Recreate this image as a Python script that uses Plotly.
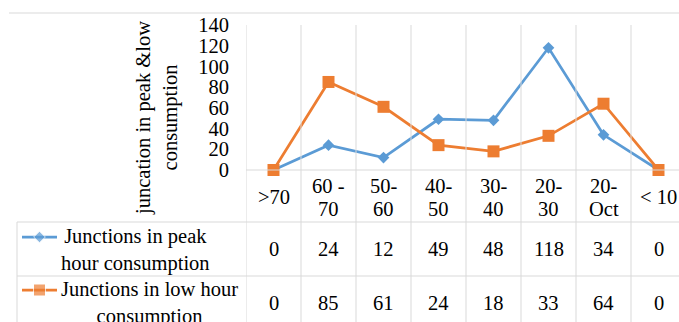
import plotly.graph_objects as go

# Data
categories = ["&gt;70", "60 -<br>70", "50-<br>60", "40-<br>50", "30-<br>40", "20-<br>30", "20-<br>Oct", "&lt; 10"]
peak_values = [0, 24, 12, 49, 48, 118, 34, 0]
low_values = [0, 85, 61, 24, 18, 33, 64, 0]
series_names = ["Junctions in peak<br>hour consumption", "Junctions in low hour<br>consumption"]
y_ticks = [0, 20, 40, 60, 80, 100, 120, 140]
y_title = "juncation in peak &amp;low<br>consumption"

W, H = 679, 322
BLUE = "#5b9bd5"
ORANGE = "#ed7d31"
GRID = "#d9d9d9"
FONT = "Liberation Serif"
TXT = "#000000"

# pixel layout helpers
def py(p):
    return 1 - p / H

def px(p):
    return p / W

plot_left = 246
col_w = 55
plot_top = 25
plot_bottom = 170
header_bottom = 222
row1_bottom = 276

fig = go.Figure()

xs = list(range(len(categories)))
fig.add_trace(go.Scatter(
    x=xs, y=peak_values, mode="lines+markers",
    line=dict(color=BLUE, width=2.75),
    marker=dict(symbol="diamond", size=9, color=BLUE),
    showlegend=False, cliponaxis=False,
))
fig.add_trace(go.Scatter(
    x=xs, y=low_values, mode="lines+markers",
    line=dict(color=ORANGE, width=2.75),
    marker=dict(symbol="square", size=12, color=ORANGE),
    showlegend=False, cliponaxis=False,
))

# legend keys inside the table's first column (pixel-space overlay axes)
key_rows = [(237, BLUE, "diamond", 9), (290, ORANGE, "square", 12)]
for yk, col, sym, sz in key_rows:
    fig.add_trace(go.Scatter(
        x=[22, 39.5, 57], y=[yk, yk, yk], mode="lines+markers",
        line=dict(color=col, width=2.75),
        marker=dict(symbol=sym, size=[0, sz, 0], color=col),
        xaxis="x2", yaxis="y2", showlegend=False, hoverinfo="skip",
    ))

shapes = []
line_style = dict(color=GRID, width=1)
# top border
shapes.append(dict(type="line", xref="paper", yref="paper", x0=px(9), x1=1, y0=py(13), y1=py(13), line=line_style))
# column separators through plot area and table
for i in range(len(categories) + 1):
    shapes.append(dict(type="line", xref="x", yref="paper", x0=i - 0.5, x1=i - 0.5,
                       y0=0, y1=py(plot_top), line=line_style))
# horizontal axis line
shapes.append(dict(type="line", xref="paper", yref="paper", x0=px(plot_left), x1=1,
                   y0=py(plot_bottom), y1=py(plot_bottom), line=line_style))
# table row lines
for yy in (header_bottom, row1_bottom):
    shapes.append(dict(type="line", xref="paper", yref="paper", x0=px(17), x1=1,
                       y0=py(yy), y1=py(yy), line=line_style))
# table left edge
shapes.append(dict(type="line", xref="paper", yref="paper", x0=px(17), x1=px(17),
                   y0=0, y1=py(header_bottom), line=line_style))

annotations = []
FS = 20.5
f = dict(family=FONT, size=FS, color=TXT)
# category header row: wrapped labels get tighter line spacing
for i, lab in enumerate(categories):
    parts = lab.split("<br>")
    if len(parts) == 1:
        ys = [197]
    else:
        ys = [186, 209]
    for part, yv in zip(parts, ys):
        annotations.append(dict(x=i, xref="x", y=py(yv), yref="paper", text=part, showarrow=False,
                                font=f, xanchor="center", yanchor="middle", align="center"))
for vals, yc in ((peak_values, 249), (low_values, 303)):
    for i, v in enumerate(vals):
        annotations.append(dict(x=i, xref="x", y=py(yc), yref="paper", text=str(v), showarrow=False,
                                font=f, xanchor="center", yanchor="middle"))
for name, yc in zip(series_names, (249.5, 302.5)):
    annotations.append(dict(x=px(59), xref="paper", y=py(yc), yref="paper", text=name, showarrow=False,
                            font=f, xanchor="left", yanchor="middle", align="center"))
annotations.append(dict(x=px(157), xref="paper", y=py(118), yref="paper", text=y_title, showarrow=False,
                        font=f, textangle=-90, xanchor="center", yanchor="middle", align="center"))

fig.update_layout(
    width=W, height=H,
    margin=dict(l=0, r=0, t=0, b=0, pad=0, autoexpand=False),
    paper_bgcolor="white", plot_bgcolor="rgba(0,0,0,0)",
    xaxis=dict(domain=[px(plot_left), 1], range=[-0.5, -0.5 + (W - plot_left) / col_w],
               showticklabels=False, showgrid=False, zeroline=False, showline=False,
               automargin=False),
    yaxis=dict(domain=[py(plot_bottom), py(plot_top)], range=[0, 140],
               tickmode="array", tickvals=y_ticks, ticktext=[str(t) for t in y_ticks],
               tickfont=f, showgrid=False, zeroline=False, showline=False,
               ticks="", ticklabelstandoff=16, automargin=False),
    xaxis2=dict(domain=[0, 1], range=[0, W], visible=False, anchor="y2"),
    yaxis2=dict(domain=[0, 1], range=[H, 0], visible=False, anchor="x2"),
    shapes=shapes,
    annotations=annotations,
    showlegend=False,
)

fig.write_html("out.html")
